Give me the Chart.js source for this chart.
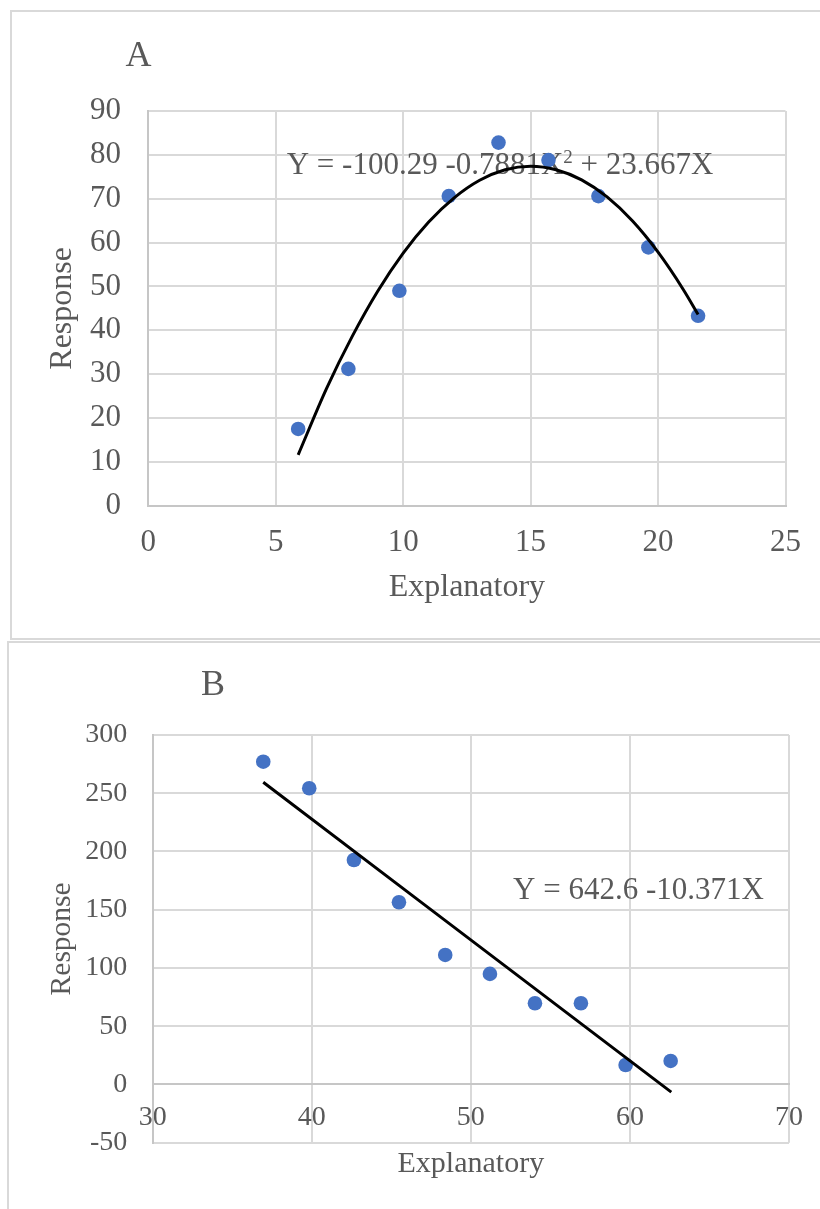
<!DOCTYPE html>
<html>
<head>
<meta charset="utf-8">
<script src="https://cdn.jsdelivr.net/npm/chart.js@4.4.1/dist/chart.umd.min.js"></script>
<style>
  html, body { margin: 0; padding: 0; background: #fff; width: 820px; height: 1209px; overflow: hidden; position: relative; }
  .frame { position: absolute; border: 2px solid #d9d9d9; box-sizing: border-box; }
  #frameA { left: 10px; top: 10px; width: 830px; height: 630px; }
  #frameB { left: 7px; top: 641px; width: 830px; height: 620px; }
  canvas { position: absolute; display: block; }
  #chartA { left: 12px; top: 12px; width: 808px; height: 626px; }
  #chartB { left: 9px; top: 643px; width: 811px; height: 566px; }
</style>
</head>
<body>
<div class="frame" id="frameA"></div>
<div class="frame" id="frameB"></div>
<canvas id="chartA" width="808" height="626"></canvas>
<canvas id="chartB" width="811" height="566"></canvas>
<script>
// ---------- Panel A data ----------
const aExplanatory = [5.88, 7.85, 9.85, 11.79, 13.74, 15.70, 17.66, 19.62, 21.57];
const aResponse    = [17.5, 31.2, 49.0, 70.6, 82.8, 78.8, 70.6, 58.9, 43.3];
const aTrendX = [5.88, 7, 8, 9, 10, 11, 12, 13, 14, 15, 16, 17, 18, 19, 20, 21, 21.57];
const aTrendY = [11.6, 26.8, 38.6, 48.9, 57.6, 64.7, 70.2, 74.2, 76.6, 77.4, 76.6, 74.3, 70.4, 64.9, 57.8, 49.2, 43.6];
const aXTicks = [0, 5, 10, 15, 20, 25];
const aYTicks = [0, 10, 20, 30, 40, 50, 60, 70, 80, 90];
const aEquation = [{ text: 'Y = -100.29 -0.7881X' }, { text: '2', sup: true }, { text: ' + 23.667X' }];
const aLabel = 'A';

// ---------- Panel B data ----------
const bExplanatory = [36.95, 39.84, 42.65, 45.48, 48.39, 51.20, 54.03, 56.92, 59.73, 62.56];
const bResponse    = [277.1, 254.3, 192.7, 156.4, 111.2, 94.9, 69.7, 69.7, 16.7, 20.2];
const bTrendX = [36.95, 62.6];
const bTrendY = [259.4, -6.6];
const bXTicks = [30, 40, 50, 60, 70];
const bYTicks = [-50, 0, 50, 100, 150, 200, 250, 300];
const bEquation = [{ text: 'Y = 642.6 -10.371X' }];
const bLabel = 'B';

const xTitle = 'Explanatory';
const yTitle = 'Response';

// ---------- styles ----------
const FONT = '"Liberation Serif", "Times New Roman", serif';
const TEXT = '#595959';
const GRID = '#d9d9d9';
const AXIS = '#c6c6c6';
const DOT = '#4472C4';

const textPlugin = {
  id: 'panelText',
  beforeDatasetsDraw(chart, args, opts) {
    const { ctx } = chart;
    const xs = chart.scales.x, ys = chart.scales.y;
    ctx.save();
    ctx.fillStyle = TEXT;
    ctx.textAlign = 'left';
    ctx.textBaseline = 'middle';
    let px = xs.getPixelForValue(opts.eqX);
    const py = ys.getPixelForValue(opts.eqY);
    for (const part of opts.eqParts) {
      const size = part.sup ? Math.round(opts.eqSize * 0.62) : opts.eqSize;
      ctx.font = size + 'px ' + FONT;
      const dy = part.sup ? -opts.eqSize * 0.24 : 0;
      ctx.fillText(part.text, px, py + dy);
      px += ctx.measureText(part.text).width;
    }
    ctx.restore();
  },
  afterDraw(chart, args, opts) {
    const { ctx } = chart;
    ctx.save();
    ctx.fillStyle = TEXT;
    ctx.font = opts.labelSize + 'px ' + FONT;
    ctx.textAlign = 'center';
    ctx.textBaseline = 'middle';
    ctx.fillText(opts.label, opts.labelX, opts.labelY);
    ctx.restore();
  }
};

function buildChart(id, c) {
  return new Chart(document.getElementById(id), {
    type: 'scatter',
    data: {
      datasets: [
        {
          label: 'Trend',
          data: c.trendX.map((v, i) => ({ x: v, y: c.trendY[i] })),
          showLine: true,
          borderColor: '#000000',
          borderWidth: 3,
          pointRadius: 0,
          pointHoverRadius: 0,
          fill: false,
          cubicInterpolationMode: 'monotone',
          order: 0
        },
        {
          label: 'Data',
          data: c.px.map((v, i) => ({ x: v, y: c.py[i] })),
          backgroundColor: DOT,
          borderColor: DOT,
          borderWidth: 0,
          pointRadius: 7.3,
          pointHoverRadius: 7.3,
          order: 1
        }
      ]
    },
    options: {
      responsive: false,
      animation: false,
      events: [],
      layout: { padding: c.pad },
      plugins: {
        legend: { display: false },
        tooltip: { enabled: false },
        panelText: {
          eqParts: c.eq, eqX: c.eqX, eqY: c.eqY, eqSize: c.eqSize,
          label: c.label, labelX: c.labelX, labelY: c.labelY, labelSize: 36
        }
      },
      scales: {
        x: {
          type: 'linear',
          position: c.xPos,
          min: c.xTicks[0],
          max: c.xTicks[c.xTicks.length - 1],
          afterBuildTicks: s => { s.ticks = c.xTicks.map(v => ({ value: v })); },
          afterFit: s => { s.height = c.xH; },
          ticks: { font: { family: FONT, size: c.tickSize }, color: TEXT, padding: c.xTickPad, maxRotation: 0, autoSkip: false },
          grid: { color: GRID, lineWidth: 2, drawTicks: false },
          border: { color: AXIS, width: 2 },
          title: { display: true, text: xTitle, color: TEXT, font: { family: FONT, size: c.xTitleSize }, padding: { top: 0, bottom: c.xTitlePad } }
        },
        y: {
          type: 'linear',
          position: 'left',
          min: c.yTicks[0],
          max: c.yTicks[c.yTicks.length - 1],
          afterBuildTicks: s => { s.ticks = c.yTicks.map(v => ({ value: v })); },
          afterFit: s => { s.width = c.yW; },
          ticks: { font: { family: FONT, size: c.tickSize }, color: TEXT, padding: c.yTickPad, autoSkip: false },
          grid: { color: GRID, lineWidth: 2, drawTicks: false },
          border: { color: AXIS, width: 2 },
          title: { display: true, text: yTitle, color: TEXT, font: { family: FONT, size: c.yTitleSize }, padding: { top: c.yTitlePad, bottom: 0 } }
        }
      }
    },
    plugins: [textPlugin]
  });
}

buildChart('chartA', {
  px: aExplanatory, py: aResponse, trendX: aTrendX, trendY: aTrendY,
  xTicks: aXTicks, yTicks: aYTicks,
  pad: { left: 0, top: 99, right: 33.2, bottom: 0 },
  xPos: 'bottom', xH: 132.3, yW: 136.3,
  tickSize: 31, xTickPad: 19, yTickPad: 27.3,
  xTitleSize: 32, xTitlePad: 30.8, yTitleSize: 32, yTitlePad: 31.8,
  eq: aEquation, eqX: 5.43, eqY: 77.6, eqSize: 31,
  label: aLabel, labelX: 126.5, labelY: 45
});

buildChart('chartB', {
  px: bExplanatory, py: bResponse, trendX: bTrendX, trendY: bTrendY,
  xTicks: bXTicks, yTicks: bYTicks,
  pad: { left: 0, top: 92, right: 31, bottom: 66.3 },
  xPos: { y: 0 }, xH: 98, yW: 143.7,
  tickSize: 28, xTickPad: 16.7, yTickPad: 25.4,
  xTitleSize: 30, xTitlePad: 0, yTitleSize: 29.5, yTitlePad: 35.8,
  eq: bEquation, eqX: 52.65, eqY: 165.9, eqSize: 31,
  label: bLabel, labelX: 204, labelY: 43
});
</script>
</body>
</html>
